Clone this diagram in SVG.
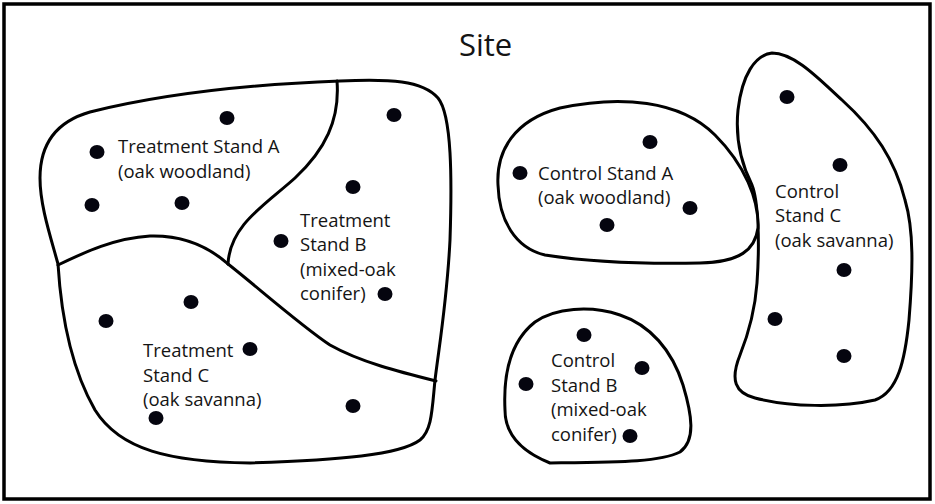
<svg xmlns="http://www.w3.org/2000/svg" width="935" height="504" viewBox="0 0 935 504">
  <style>
    .frame { fill: #ffffff; stroke: #000000; stroke-width: 3.5; }
    .stand { fill: #ffffff; stroke: #000000; stroke-width: 3; stroke-linejoin: round; }
    .edge { fill: none; stroke: #000000; stroke-width: 3; stroke-linecap: round; }
    .plot { fill: #05050f; }
    .label { font-family: "Open Sans", "Liberation Sans", sans-serif; font-size: 18.5px; fill: #141414; }
    .title { font-family: "Open Sans", "Liberation Sans", sans-serif; font-size: 31px; fill: #141414; }
  </style>

  <!-- site frame -->
  <rect class="frame" x="4" y="4" width="926" height="495"/>
  <text class="title" x="459" y="56">Site</text>

  <!-- treatment block: outer outline -->
  <g id="treatment-block">
    <path class="stand" d="M 58,264 C 50,235 40,205 40,178 C 40,145 55,122 90,112 C 170,92 260,84 340,81 C 390,79 422,80 438,98 C 452,115 452,180 450,240 C 447,300 440,340 435,380 C 432,410 432,430 420,440 C 400,455 340,460 250,463 C 170,462 120,450 95,410 C 75,375 62,330 58,264 Z"/>
  </g>

  <!-- stand boundaries inside the treatment block -->
  <g id="boundaries">
    <path class="edge" d="M 58,265 C 85,252 115,238 150,236 C 185,235 210,248 228,264"/>
    <path class="edge" d="M 228,264 C 255,285 300,325 330,345 C 360,362 400,372 436,381"/>
    <path class="edge" d="M 337,81 C 340,120 325,150 295,178 C 265,205 230,225 228,264"/>
  </g>

  <g id="treatment-stand-a">
    <ellipse class="plot" cx="97" cy="152" rx="7.5" ry="7"/>
    <ellipse class="plot" cx="227" cy="118" rx="7.5" ry="7"/>
    <ellipse class="plot" cx="92" cy="205" rx="7.5" ry="7"/>
    <ellipse class="plot" cx="182" cy="203" rx="7.5" ry="7"/>
    <text class="label" x="118" y="153">Treatment Stand A</text>
    <text class="label" x="118" y="178">(oak woodland)</text>
  </g>

  <g id="treatment-stand-b">
    <ellipse class="plot" cx="394" cy="115" rx="7.5" ry="7"/>
    <ellipse class="plot" cx="353" cy="187" rx="7.5" ry="7"/>
    <ellipse class="plot" cx="281" cy="241" rx="7.5" ry="7"/>
    <ellipse class="plot" cx="385" cy="294" rx="7.5" ry="7"/>
    <text class="label" x="300" y="227">Treatment</text>
    <text class="label" x="300" y="251">Stand B</text>
    <text class="label" x="300" y="276">(mixed-oak</text>
    <text class="label" x="300" y="300">conifer)</text>
  </g>

  <g id="treatment-stand-c">
    <ellipse class="plot" cx="191" cy="302" rx="7.5" ry="7"/>
    <ellipse class="plot" cx="106" cy="321" rx="7.5" ry="7"/>
    <ellipse class="plot" cx="250" cy="349" rx="7.5" ry="7"/>
    <ellipse class="plot" cx="353" cy="406" rx="7.5" ry="7"/>
    <ellipse class="plot" cx="156" cy="418" rx="7.5" ry="7"/>
    <text class="label" x="143" y="357">Treatment</text>
    <text class="label" x="143" y="382">Stand C</text>
    <text class="label" x="143" y="406">(oak savanna)</text>
  </g>

  <g id="control-stand-c">
    <path class="stand" d="M 772,53 C 755,55 742,75 738,110 C 735,140 742,165 752,185 C 758,200 760,240 757,283 C 755,310 748,335 740,355 C 730,380 735,393 755,398 C 790,407 840,408 875,400 C 898,392 905,360 909,320 C 913,270 914,230 905,200 C 895,160 875,130 842,100 C 820,80 795,53 772,53 Z"/>
    <ellipse class="plot" cx="787" cy="97" rx="7.5" ry="7"/>
    <ellipse class="plot" cx="840" cy="165" rx="7.5" ry="7"/>
    <ellipse class="plot" cx="844" cy="270" rx="7.5" ry="7"/>
    <ellipse class="plot" cx="775" cy="319" rx="7.5" ry="7"/>
    <ellipse class="plot" cx="844" cy="356" rx="7.5" ry="7"/>
    <text class="label" x="775" y="198">Control</text>
    <text class="label" x="775" y="222">Stand C</text>
    <text class="label" x="775" y="247">(oak savanna)</text>
  </g>

  <g id="control-stand-a">
    <path class="stand" d="M 498,185 C 496,150 515,120 560,108 C 620,95 680,100 715,135 C 745,165 759,200 758,228 C 755,250 740,262 700,263 C 650,264 590,262 545,255 C 515,248 499,220 498,185 Z"/>
    <ellipse class="plot" cx="650" cy="142" rx="7.5" ry="7"/>
    <ellipse class="plot" cx="520" cy="173" rx="7.5" ry="7"/>
    <ellipse class="plot" cx="690" cy="208" rx="7.5" ry="7"/>
    <ellipse class="plot" cx="607" cy="225" rx="7.5" ry="7"/>
    <text class="label" x="538" y="180">Control Stand A</text>
    <text class="label" x="538" y="204">(oak woodland)</text>
  </g>

  <g id="control-stand-b">
    <path class="stand" d="M 550,463 C 530,455 505,440 505,410 C 503,370 512,340 535,322 C 555,308 590,305 620,315 C 650,325 672,350 683,385 C 692,415 696,440 680,452 C 660,462 620,462 550,463 Z"/>
    <ellipse class="plot" cx="584" cy="335" rx="7.5" ry="7"/>
    <ellipse class="plot" cx="642" cy="368" rx="7.5" ry="7"/>
    <ellipse class="plot" cx="526" cy="384" rx="7.5" ry="7"/>
    <ellipse class="plot" cx="630" cy="436" rx="7.5" ry="7"/>
    <text class="label" x="551" y="367">Control</text>
    <text class="label" x="551" y="392">Stand B</text>
    <text class="label" x="551" y="416">(mixed-oak</text>
    <text class="label" x="551" y="441">conifer)</text>
  </g>
</svg>
